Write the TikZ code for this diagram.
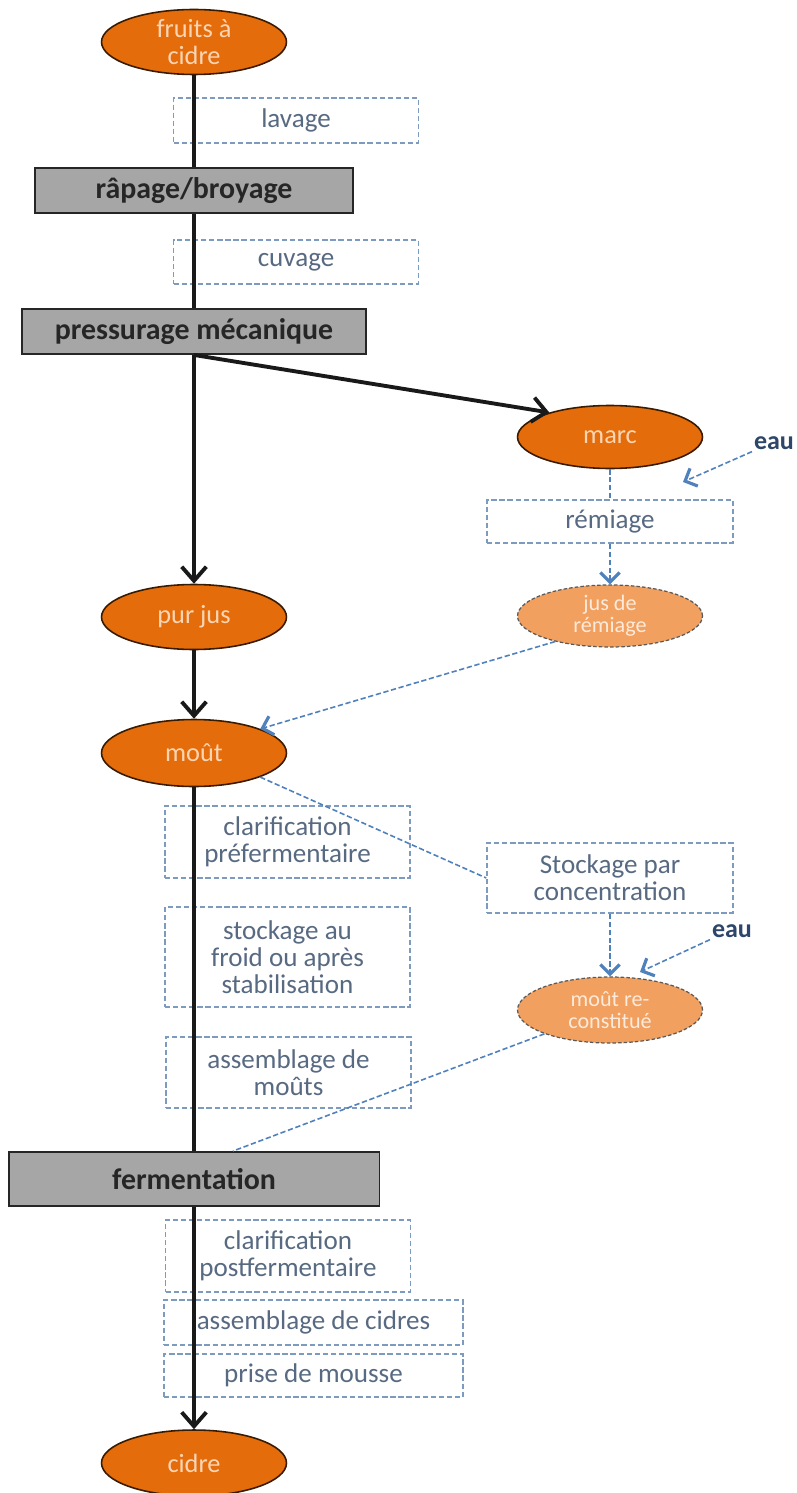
\documentclass[tikz,border=0pt]{standalone}
\usepackage{fontspec}
\setmainfont{Carlito}
\usetikzlibrary{shapes.geometric,arrows.meta}
\definecolor{cidreorange}{RGB}{228,108,10}
\definecolor{paleorange}{RGB}{241,160,96}
\definecolor{peachtext}{RGB}{252,213,181}
\definecolor{paletext}{RGB}{253,234,218}
\definecolor{boxgray}{RGB}{166,166,166}
\definecolor{dashblue}{RGB}{125,155,190}
\definecolor{slatetext}{RGB}{88,106,130}
\definecolor{arrowblue}{RGB}{79,129,189}
\definecolor{eaublue}{RGB}{45,70,105}
\tikzset{
  orangeell/.style={ellipse,draw=black!75!cidreorange,line width=0.9pt,fill=cidreorange,
    text=peachtext,minimum width=3.7cm,minimum height=1.3cm,inner sep=0pt,align=center,
    font=\fontsize{15}{15.4}\selectfont},
  paleell/.style={ellipse,draw=black!65,line width=0.7pt,dash pattern=on 2pt off 1.2pt,
    fill=paleorange,text=paletext,minimum width=3.7cm,minimum height=1.26cm,inner sep=0pt,
    align=center,font=\fontsize{12.6}{12.6}\selectfont},
  graybox/.style={rectangle,draw=black!85,line width=1.1pt,fill=boxgray,text=black!85,
    minimum height=0.9cm,inner sep=0pt,font=\bfseries\fontsize{17}{20}\selectfont},
  stepbox/.style={rectangle,draw=dashblue,line width=0.9pt,dash pattern=on 3pt off 1.6pt,
    text=slatetext,minimum width=4.9cm,inner sep=0pt,align=center,
    font=\fontsize{15.4}{15.4}\selectfont},
  eaulabel/.style={text=eaublue,inner sep=1pt,font=\bfseries\fontsize{14.8}{16}\selectfont},
  mainline/.style={draw=black!90,line width=2.2pt},
  mainarrow/.style={mainline,-{Straight Barb[length=8pt,width=14pt]}},
  bluedash/.style={draw=arrowblue,line width=0.9pt,dash pattern=on 3pt off 1.5pt},
  bluearrow/.style={bluedash,-{Straight Barb[length=5.5pt,width=11pt,line width=1.8pt]}}
}

\begin{document}
\begin{tikzpicture}[x=0.02cm,y=-0.02cm]
  \useasboundingbox (0,0) rectangle (796,1493);
  \fill[white] (0,0) rectangle (796,1493);

  % main column
  \node[orangeell] (fruits) at (194,42) {fruits à\\cidre};
  \node[stepbox,minimum height=0.9cm] (lavage) at (296,120.5) {lavage};
  \node[graybox,minimum width=6.36cm] (rapage) at (194,190.5) {râpage/broyage};
  \node[stepbox,minimum height=0.88cm] (cuvage) at (296,262) {cuvage};
  \node[graybox,minimum width=6.88cm] (pressurage) at (194,331.5) {pressurage mécanique};
  \node[orangeell] (purjus) at (194,617) {pur jus};
  \node[orangeell,minimum height=1.34cm] (mout) at (194,753) {moût};
  \node[stepbox,minimum height=1.44cm] (clarpre) at (287.5,842) {clarification\\préfermentaire};
  \node[stepbox,minimum height=2cm] (stockfroid) at (287.5,957) {stockage au\\froid ou après\\stabilisation};
  \node[stepbox,minimum height=1.42cm] (assmouts) at (288.5,1072.5) {assemblage de\\moûts};
  \node[graybox,minimum width=7.42cm,minimum height=1.08cm] (fermentation) at (194,1179) {fermentation};
  \node[stepbox,minimum height=1.44cm] (clarpost) at (288,1256) {clarification\\postfermentaire};
  \node[stepbox,minimum width=5.98cm,minimum height=0.9cm] (asscidres) at (313.5,1322.5) {assemblage de cidres};
  \node[stepbox,minimum width=5.98cm,minimum height=0.86cm] (prise) at (313.5,1375.5) {prise de mousse};
  \node[orangeell,minimum height=1.32cm] (cidre) at (194,1463) {cidre};

  % side column
  \node[orangeell,minimum height=1.26cm] (marc) at (610,437) {marc};
  \node[stepbox,minimum width=4.92cm,minimum height=0.86cm] (remiage) at (610,521.5) {rémiage};
  \node[paleell,minimum height=1.24cm] (jusrem) at (610,616) {jus de\\rémiage};
  \node[stepbox,minimum width=4.92cm,minimum height=1.4cm] (stockconc) at (610,878) {Stockage par\\concentration};
  \node[paleell,minimum height=1.32cm] (moutrec) at (610,1010) {moût re-\\constitué};
  \node[eaulabel] (eau1) at (774,443) {eau};
  \node[eaulabel] (eau2) at (732,931) {eau};
  \coordinate (eau1tip) at (683,482);
  \coordinate (eau2tip) at (640,972);

  % black flow
  \draw[mainline] (fruits.south) -- (rapage.north);
  \draw[mainline] (rapage.south) -- (pressurage.north);
  \draw[mainarrow] (pressurage.south) -- (purjus.north);
  \draw[mainarrow] (pressurage.south) -- (marc.158);
  \draw[mainarrow] (purjus.south) -- (mout.north);
  \draw[mainline] (mout.south) -- (fermentation.north);
  \draw[mainarrow] (fermentation.south) -- (cidre.north);

  % blue dashed flow
  \draw[bluedash] (marc.south) -- (remiage.north);
  \draw[bluearrow] (remiage.south) -- (jusrem.north);
  \draw[bluearrow] (eau1.south west) -- (eau1tip);
  \draw[bluearrow] (jusrem.205) -- (mout.20);
  \draw[bluedash] (mout.-20) -- (stockconc.west);
  \draw[bluearrow] (stockconc.south) -- (moutrec.north);
  \draw[bluearrow] (eau2.south west) -- (eau2tip);
  \draw[bluedash] (moutrec.200) -- ([xshift=0.78cm]fermentation.north);
  %\draw[bluedash] (moutrec.west) -- (assmouts.east);
\end{tikzpicture}
\end{document}
